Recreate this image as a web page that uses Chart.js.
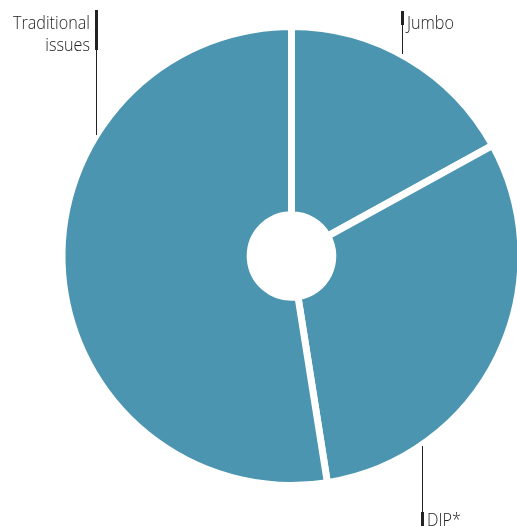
<!DOCTYPE html>
<html>
<head>
<meta charset="utf-8">
<script src="https://cdn.jsdelivr.net/npm/chart.js@4.4.1/dist/chart.umd.min.js"></script>
<style>
  html, body { margin: 0; padding: 0; background: #fff; }
  #wrap { width: 517px; height: 526px; position: relative; }
</style>
</head>
<body>
<div id="wrap"><canvas id="issuesChart"></canvas></div>
<script>
const categories = ['Jumbo', 'DIP*', 'Traditional issues'];
const shares = [17, 30.5, 52.5];
const sliceColor = '#4b95b0';

// callout labels: vertical leader line plus text, one per slice
const callouts = [
  { lines: ['Jumbo'], x: 402.5, y1: 11, y2: 54, thick: [11, 25], align: 'left', tx: 407, ty: 29 },
  { lines: ['DIP*'], x: 422.5, y1: 446, y2: 526, thick: [512, 526], align: 'left', tx: 427, ty: 526 },
  { lines: ['Traditional', 'issues'], x: 96.5, y1: 10, y2: 135, thick: [10, 50], align: 'right', tx: 90, ty: 28.5, lh: 22 }
];

const calloutPlugin = {
  id: 'callouts',
  afterDraw(chart) {
    const ctx = chart.ctx;
    ctx.save();
    callouts.forEach(c => {
      ctx.strokeStyle = '#222';
      ctx.lineWidth = 1;
      ctx.beginPath();
      ctx.moveTo(c.x, c.y1);
      ctx.lineTo(c.x, c.y2);
      ctx.stroke();
      ctx.lineWidth = 3;
      ctx.beginPath();
      ctx.moveTo(c.x, c.thick[0]);
      ctx.lineTo(c.x, c.thick[1]);
      ctx.stroke();
      ctx.fillStyle = '#222';
      ctx.font = '300 18px "Open Sans", sans-serif';
      ctx.textAlign = c.align;
      ctx.textBaseline = 'alphabetic';
      c.lines.forEach((t, i) => {
        // narrow the face a little so it sets like a compact sans
        ctx.save();
        ctx.translate(c.tx, c.ty + i * (c.lh || 0));
        ctx.scale(0.9, 1);
        ctx.fillText(t, 0, 0);
        ctx.restore();
      });
    });
    ctx.restore();
  }
};

new Chart(document.getElementById('issuesChart'), {
  type: 'doughnut',
  data: {
    labels: categories,
    datasets: [{
      data: shares,
      backgroundColor: sliceColor,
      borderColor: '#fff',
      borderWidth: 7,
      radius: 229.5,
      cutout: '18%'
    }]
  },
  options: {
    responsive: true,
    maintainAspectRatio: false,
    animation: false,
    layout: { padding: { left: 66, right: 0, top: 30, bottom: 44 } },
    plugins: { legend: { display: false }, tooltip: { enabled: false } }
  },
  plugins: [calloutPlugin]
});
</script>
</body>
</html>
